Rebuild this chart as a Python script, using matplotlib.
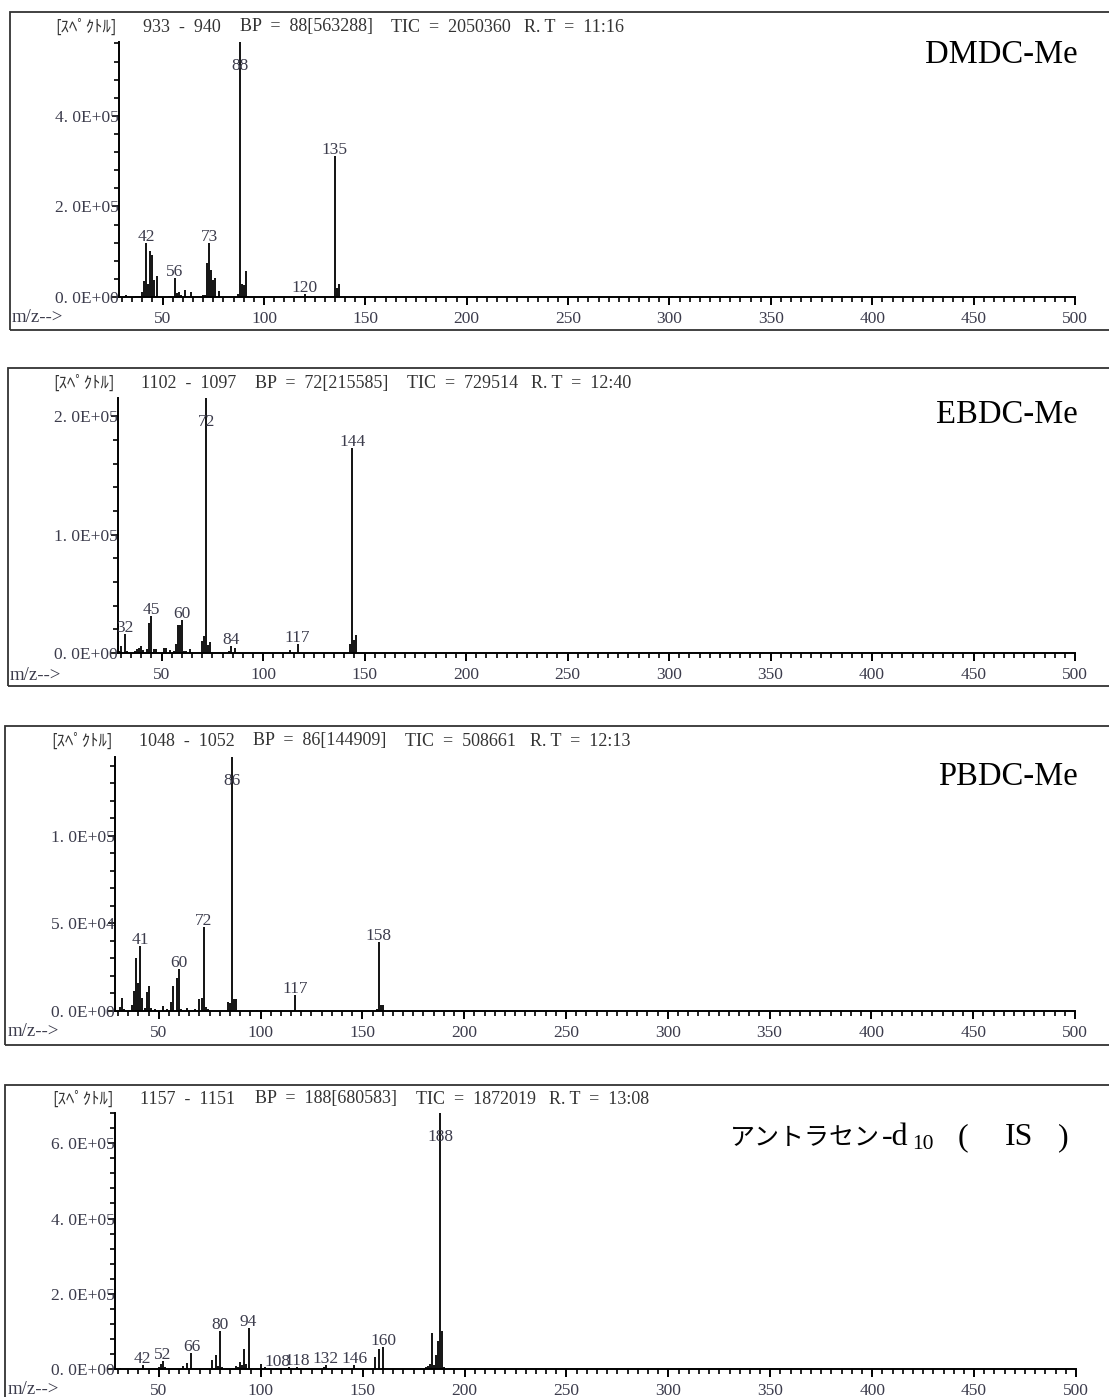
import numpy as np
import matplotlib.pyplot as plt
from matplotlib.patches import Rectangle
from matplotlib.ticker import MultipleLocator, FuncFormatter

W, H = 1109, 1397
SERIF = ['Liberation Serif', 'Noto Sans CJK JP']
LBL = '#3c3c4c'

# --- spectra (m/z, abundance) ---
dmdc_mz = [29, 32, 37, 38, 39, 40, 41, 42, 43, 44, 45, 46, 47, 53, 54, 56, 57, 58, 59, 61, 64,
           70, 71, 72, 73, 74, 75, 76, 78, 87, 88, 89, 90, 91, 92, 120, 135, 136, 137, 152,
           205, 262, 301, 347, 451]
dmdc_int = [3000, 4000, 1500, 2000, 2500, 11000, 36000, 120000, 28000, 101000, 92000, 38000, 47000,
            2500, 3000, 41000, 8000, 11000, 4000, 16000, 12000,
            5000, 5000, 75000, 120000, 60000, 38000, 42000, 13000, 6000, 563288, 29000, 26000, 58000,
            3000, 7000, 311000, 20000, 29000, 2000, 1500, 1500, 1500, 1500, 1500]
dmdc_labels = [42, 56, 73, 88, 120, 135]

ebdc_mz = [29, 30, 32, 33, 37, 38, 39, 40, 41, 43, 44, 45, 46, 47, 51, 52, 54, 56, 57, 58, 59, 60,
           61, 62, 64, 70, 71, 72, 73, 74, 83, 84, 86, 113, 117, 143, 144, 145, 146]
ebdc_int = [2000, 6000, 16000, 2000, 2000, 3000, 4000, 6000, 2500, 3000, 25000, 31000, 3000, 3000,
            4000, 4000, 2500, 2000, 8000, 24000, 24000, 28000, 2000, 2000, 3500, 10000, 14000,
            215585, 7000, 9000, 2000, 6000, 4000, 2500, 8000, 8000, 173000, 11000, 15000]
ebdc_labels = [32, 45, 60, 72, 84, 117, 144]

pbdc_mz = [31, 32, 33, 37, 38, 39, 40, 41, 42, 43, 44, 45, 46, 48, 52, 54, 56, 57, 59, 60, 61, 64,
           68, 70, 71, 72, 73, 74, 84, 85, 86, 87, 88, 98, 100, 102, 117, 119, 126, 129, 157, 158,
           159, 160, 205, 300]
pbdc_int = [2500, 7600, 1000, 3400, 11500, 30000, 15700, 37000, 7600, 1500, 11000, 14000, 1500, 1000,
            2800, 1000, 5300, 14000, 19000, 24000, 1000, 1500, 1000, 6600, 7600, 48000, 2300, 1000,
            5300, 4300, 144909, 6600, 6600, 800, 800, 800, 9000, 800, 600, 600, 1000, 39500,
            3400, 3400, 500, 500]
pbdc_labels = [41, 60, 72, 86, 117, 158]

anth_mz = [31, 42, 50, 51, 52, 53, 62, 64, 66, 76, 78, 79, 80, 81, 88, 89, 90, 91, 92, 93, 94,
           100, 102, 104, 108, 114, 118, 131, 132, 146, 156, 158, 160, 181, 182, 183, 184, 185,
           186, 187, 188, 189, 190]
anth_int = [1500, 11600, 5000, 12000, 20000, 4000, 7000, 16000, 43000, 25000, 36000, 7000, 102000,
            4000, 9000, 6000, 19000, 11000, 52000, 13000, 108000, 13000, 4000, 3000, 2500, 4000,
            4000, 6000, 10000, 11000, 32000, 52000, 58000, 4000, 7000, 13000, 95000, 10000, 36000,
            74000, 680583, 100000, 4000]
anth_labels = [42, 52, 66, 80, 94, 108, 118, 132, 146, 160, 188]

headers = [
    ['933  -  940', 'BP  =  88[563288]', 'TIC  =  2050360', 'R. T  =  11:16'],
    ['1102  -  1097', 'BP  =  72[215585]', 'TIC  =  729514', 'R. T  =  12:40'],
    ['1048  -  1052', 'BP  =  86[144909]', 'TIC  =  508661', 'R. T  =  12:13'],
    ['1157  -  1151', 'BP  =  188[680583]', 'TIC  =  1872019', 'R. T  =  13:08'],
]
names = ['DMDC-Me', 'EBDC-Me', 'PBDC-Me', None]
spectra = [(dmdc_mz, dmdc_int, dmdc_labels), (ebdc_mz, ebdc_int, ebdc_labels),
           (pbdc_mz, pbdc_int, pbdc_labels), (anth_mz, anth_int, anth_labels)]
ymajor = [2e5, 1e5, 5e4, 2e5]

# layout in pixels: box (left, top, bottom), axes (left, right, baseline, top), header x/y positions
boxes = [(10, 12, 330), (8, 368, 686), (5, 726, 1045), (5, 1085, 1402)]
axpix = [(119, 1075, 297, 42), (118, 1075, 653, 398), (115, 1075, 1011, 757), (115, 1076, 1369, 1113)]
head_xy = [(55, 27), (53, 383), (51, 741), (52, 1099)]
field_x = [[143, 240, 391, 524], [141, 255, 407, 531], [139, 253, 405, 530], [140, 255, 416, 549]]
mz_xy = [(12, 318), (10, 675), (8, 1031), (8, 1389)]
name_y = [55, 415, 777]


def sci(v, pos):
    if v <= 0:
        return '0. 0E+00'
    e = int(np.floor(np.log10(v) + 1e-9))
    return f'{v / 10**e:.1f}E+{e:02d}'.replace('.', '. ')


def fx(x):
    return x / W


def fy(y):
    return 1 - y / H


fig = plt.figure(figsize=(W / 100, H / 100), dpi=100)

for i, (mz, inten, labels) in enumerate(spectra):
    bl, bt, bb = boxes[i]
    fig.patches.append(Rectangle((fx(bl), fy(bb)), fx(1130 - bl), (bb - bt) / H,
                                 transform=fig.transFigure, fill=False, ec='#333333', lw=1.3))
    l, r, b, t = axpix[i]
    ax = fig.add_axes([fx(l), fy(b), (r - l) / W, (b - t) / H])
    bp = max(inten)
    ax.vlines(mz, 0, inten, color='black', lw=1.3)
    ax.set_xlim(28.5, 500)
    ax.set_ylim(0, bp)
    for s in ['top', 'right']:
        ax.spines[s].set_visible(False)
    for s in ['left', 'bottom']:
        ax.spines[s].set_linewidth(1.4)
    ax.xaxis.set_major_locator(MultipleLocator(50))
    ax.xaxis.set_minor_locator(MultipleLocator(5))
    ax.yaxis.set_major_locator(MultipleLocator(ymajor[i]))
    ax.yaxis.set_minor_locator(MultipleLocator(ymajor[i] / 5))
    ax.yaxis.set_major_formatter(FuncFormatter(sci))
    ax.tick_params(axis='x', which='major', direction='out', length=6, width=1.4, pad=4,
                   labelsize=12.5, labelcolor=LBL)
    ax.tick_params(axis='x', which='minor', direction='out', length=3.5, width=1.2)
    ax.tick_params(axis='y', which='major', direction='out', length=5, width=1.2, pad=-5,
                   labelsize=12.5, labelcolor=LBL)
    ax.tick_params(axis='y', which='minor', direction='out', length=3.5, width=1.2)
    for lab in ax.get_xticklabels() + ax.get_yticklabels():
        lab.set_family(SERIF)
    ax.set_facecolor('none')

    for m in labels:
        h = inten[mz.index(m)]
        off = -24 if h == bp else 6
        ax.annotate(str(m), (m, h), xytext=(0, off), textcoords='offset pixels',
                    ha='center', va='center', fontsize=12.5, color=LBL, family=SERIF,
                    annotation_clip=False)

    hx, hy = head_xy[i]
    fig.text(fx(hx), fy(hy), '[ｽﾍﾟｸﾄﾙ]', ha='left', va='center', fontsize=12,
             color='#333333', family=['Noto Sans CJK JP'])
    for txt, x0 in zip(headers[i], field_x[i]):
        fig.text(fx(x0), fy(hy), txt, ha='left', va='center', fontsize=13,
                 color='#333333', family=SERIF)
    mx, my = mz_xy[i]
    fig.text(fx(mx), fy(my), 'm/z-->', ha='left', va='center', fontsize=13.5,
             color=LBL, family=SERIF)
    if names[i]:
        fig.text(fx(1078), fy(name_y[i]), names[i], ha='right', va='center', fontsize=23.5,
                 color='black', family=SERIF)

# anthracene-d10 (IS) title
base = 1145
fig.text(fx(730), fy(base), 'アントラセン', ha='left', va='baseline', fontsize=18,
         color='black', family=['Noto Sans CJK JP'])
fig.text(fx(882), fy(base), '-d', ha='left', va='baseline', fontsize=23,
         color='black', family=SERIF)
fig.text(fx(912), fy(base + 4), '10', ha='left', va='baseline', fontsize=15.5,
         color='black', family=SERIF)
fig.text(fx(958), fy(base), '(', ha='left', va='baseline', fontsize=23,
         color='black', family=SERIF)
fig.text(fx(1005), fy(base), 'IS', ha='left', va='baseline', fontsize=23,
         color='black', family=SERIF)
fig.text(fx(1058), fy(base), ')', ha='left', va='baseline', fontsize=23,
         color='black', family=SERIF)

fig.savefig('out.png', dpi=100)
